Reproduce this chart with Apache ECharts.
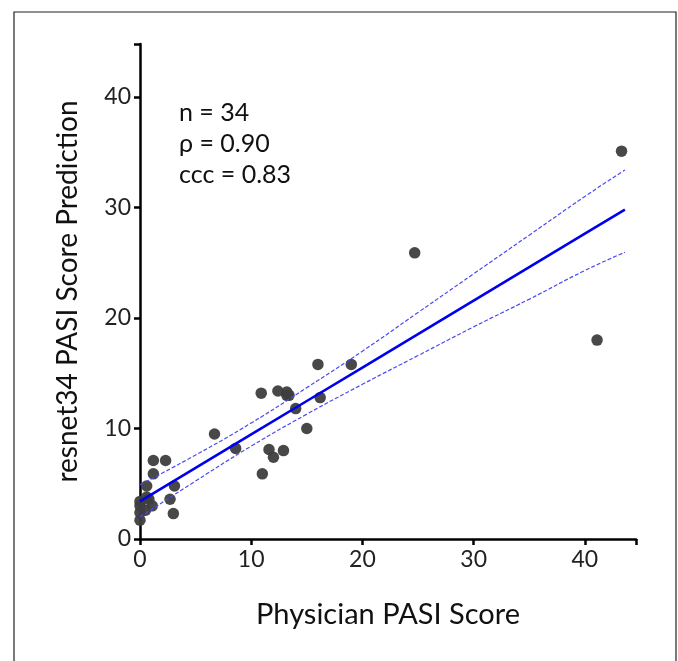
<!DOCTYPE html>
<html>
<head>
<meta charset="utf-8">
<script src="https://cdn.jsdelivr.net/npm/echarts@6/dist/echarts.min.js"></script>
<style>html,body{margin:0;padding:0;background:#fff;}#c{width:678px;height:661px;}</style>
</head>
<body>
<div id="c"></div>
<script>
// Physician PASI score (x) and resnet34 prediction (y)
const physicianScores = [43.3, 24.7, 41.1, 16.0, 19.0, 10.9, 12.4, 13.2, 13.2, 13.4, 16.2, 14.0, 6.7, 15.0, 8.6, 11.6, 12.9, 12.0, 11.0,
  1.2, 2.3, 1.2, 0.6, 3.1, 0.0, 0.8, 2.7, 0.0, 0.5, 1.1, 0.0, 3.0, 0.0, 0.6];
const predictedScores = [35.1, 25.9, 18.0, 15.8, 15.8, 13.2, 13.4, 13.3, 13.0, 13.0, 12.8, 11.8, 9.5, 10.0, 8.2, 8.1, 8.0, 7.4, 5.9,
  7.1, 7.1, 5.9, 4.8, 4.8, 3.4, 3.6, 3.6, 3.0, 2.6, 3.0, 2.4, 2.3, 1.7, 3.8];
// fitted line and confidence band
const fitX = [0, 5, 10, 15, 20, 25, 30, 35, 40, 43.6];
const fitY = [3.4, 6.43, 9.46, 12.49, 15.52, 18.55, 21.58, 24.61, 27.64, 29.8];
const upperY = [4.9, 7.6, 10.5, 13.7, 17.0, 20.5, 24.0, 27.5, 31.0, 33.4];
const lowerY = [2.0, 5.25, 8.4, 11.3, 14.0, 16.6, 19.2, 21.7, 24.3, 25.95];
const xTicks = [0, 10, 20, 30, 40];
const yTicks = [0, 10, 20, 30, 40];
const statLines = ['n = 34', 'ρ = 0.90', 'ccc = 0.83'];

const FONT = 'Lato, "Open Sans", sans-serif';
const chart = echarts.init(document.getElementById('c'), null, {renderer: 'canvas'});
const pts = physicianScores.map((x, i) => [x, predictedScores[i]]);
const zip = (xs, ys) => xs.map((x, i) => [x, ys[i]]);

chart.setOption({
  animation: false,
  backgroundColor: '#fff',
  grid: {left: 140, right: 42, top: 44, bottom: 122, containLabel: false},
  xAxis: {
    type: 'value', min: 0, max: 44.6, interval: 10,
    name: 'Physician PASI Score', nameLocation: 'middle', nameGap: 61,
    nameTextStyle: {fontFamily: FONT, fontSize: 29, color: '#111'},
    axisLine: {show: true, lineStyle: {color: '#000', width: 2.5}},
    axisTick: {show: true, length: 6, lineStyle: {color: '#000', width: 2.5}},
    axisLabel: {fontFamily: FONT, fontSize: 23, color: '#222', margin: 9,
      formatter: v => xTicks.includes(v) ? String(v) : ''},
    splitLine: {show: false}
  },
  yAxis: {
    type: 'value', min: 0, max: 44.8, interval: 10,
    name: 'resnet34 PASI Score Prediction', nameLocation: 'middle', nameGap: 58,
    nameTextStyle: {fontFamily: FONT, fontSize: 28, color: '#111'},
    axisLine: {show: true, lineStyle: {color: '#000', width: 2.5}},
    axisTick: {show: true, length: 6, lineStyle: {color: '#000', width: 2.5}},
    axisLabel: {fontFamily: FONT, fontSize: 23, color: '#222', margin: 9,
      formatter: v => yTicks.includes(v) ? String(v) : ''},
    splitLine: {show: false}
  },
  graphic: [
    {type: 'rect', shape: {x: 14, y: 12, width: 662, height: 700}, style: {fill: 'none', stroke: '#222', lineWidth: 1.2}, z: -10},
    {type: 'text', left: 179, top: 97, style: {text: statLines.join('\n'), font: '25px ' + FONT, fill: '#111', lineHeight: 31}}
  ],
  series: [
    {type: 'scatter', data: pts, symbolSize: 11.5, itemStyle: {color: '#3e3e3e', opacity: 0.95}, z: 2},
    {type: 'line', data: zip(fitX, fitY), showSymbol: false, smooth: false,
      lineStyle: {color: '#0000ee', width: 2.6}, z: 3},
    {type: 'line', data: zip(fitX, upperY), showSymbol: false, smooth: true,
      lineStyle: {color: '#4a4af5', width: 1.2, type: [4, 2]}, z: 3},
    {type: 'line', data: zip(fitX, lowerY), showSymbol: false, smooth: true,
      lineStyle: {color: '#4a4af5', width: 1.2, type: [4, 2]}, z: 3}
  ]
});
</script>
</body>
</html>
